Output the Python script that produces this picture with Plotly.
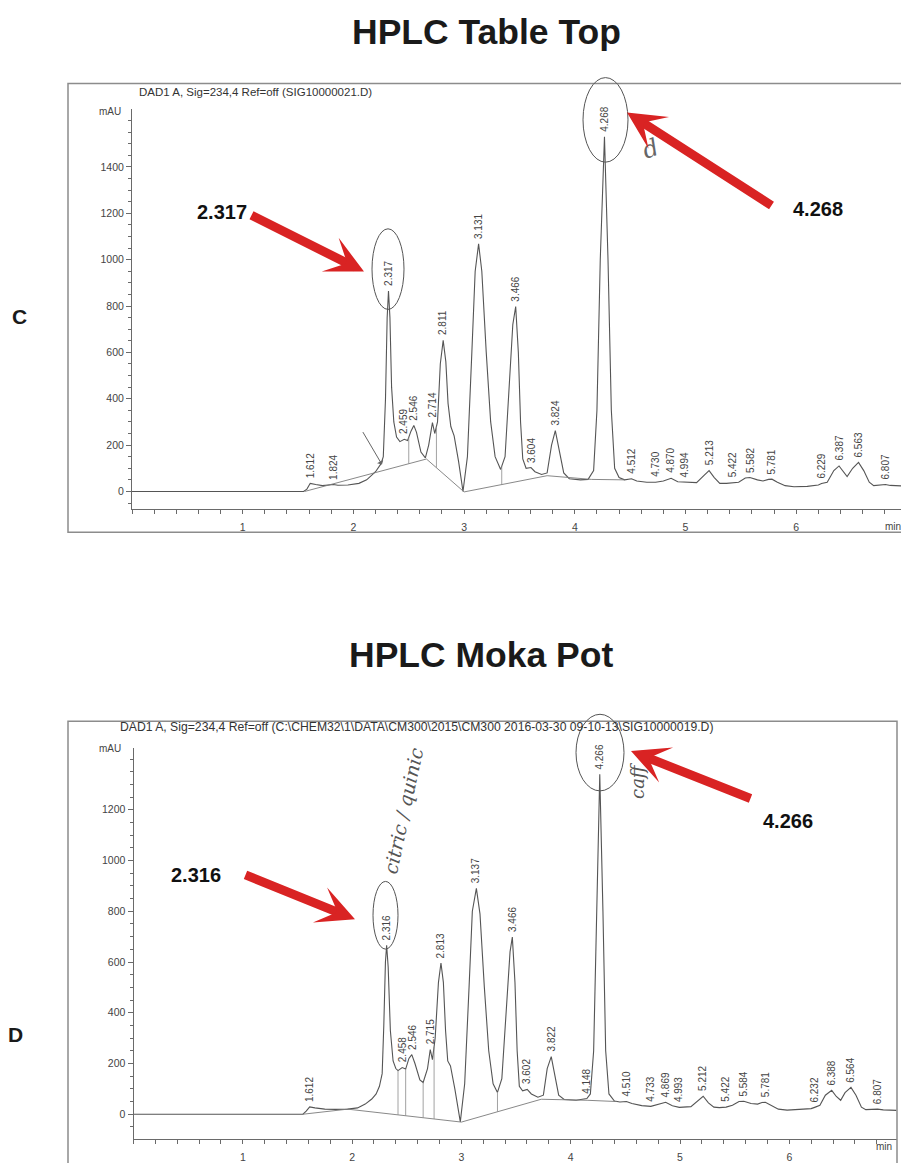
import plotly.graph_objects as go
import numpy as np

W, H = 901, 1163

# ---------------- Data: chromatogram C (Table Top) ----------------
t_C = [0.0, 1.55, 1.58, 1.61, 1.66, 1.72, 1.82, 1.86, 1.95, 2.05, 2.12, 2.20, 2.25, 2.27,
       2.29, 2.305, 2.317, 2.33, 2.345, 2.365, 2.39, 2.42, 2.459, 2.49, 2.52, 2.546, 2.57,
       2.61, 2.65, 2.68, 2.714, 2.735, 2.76, 2.785, 2.811, 2.835, 2.855, 2.88, 2.91, 2.95,
       2.99, 3.03, 3.07, 3.10, 3.131, 3.16, 3.20, 3.24, 3.28, 3.33, 3.37, 3.41, 3.44, 3.466,
       3.49, 3.51, 3.53, 3.56, 3.604, 3.64, 3.70, 3.75, 3.79, 3.824, 3.86, 3.90, 3.95, 4.05,
       4.12, 4.17, 4.20, 4.23, 4.268, 4.30, 4.33, 4.36, 4.40, 4.45, 4.512, 4.56, 4.65, 4.73,
       4.80, 4.87, 4.93, 4.994, 5.10, 5.17, 5.213, 5.26, 5.31, 5.37, 5.422, 5.48, 5.54, 5.582,
       5.65, 5.70, 5.75, 5.781, 5.83, 5.90, 5.98, 6.10, 6.20, 6.229, 6.28, 6.34, 6.387, 6.43,
       6.46, 6.51, 6.563, 6.61, 6.66, 6.70, 6.76, 6.807, 6.85, 6.95]
mAU_C = [0, 0, 10, 35, 30, 25, 30, 27, 28, 35, 50, 85, 120, 150,
         400, 750, 865, 750, 450, 300, 235, 215, 225, 220, 260, 285, 255,
         170, 145, 200, 297, 250, 300, 550, 652, 560, 380, 280, 240, 130,
         0, 150, 600, 950, 1068, 950, 600, 300, 150, 95, 150, 450, 720, 798,
         600, 300, 140, 100, 103, 85, 73, 80, 200, 262, 180, 80, 55, 50,
         52, 90, 350, 1000, 1530, 1000, 350, 100, 60, 50, 55, 45, 40, 40,
         45, 57, 42, 40, 38, 70, 90, 60, 35, 35, 38, 40, 58, 60,
         50, 45, 52, 53, 40, 25, 20, 22, 28, 34, 40, 90, 110, 80,
         64, 100, 125, 90, 40, 25, 28, 30, 26, 24]
base_t_C = [1.56, 2.66, 3.00, 3.75, 4.15, 4.45]
base_mAU_C = [0, 140, -2, 68, 52, 50]
drop_t_C = [2.50, 2.75, 3.34]
peaks_C = ["1.612", "1.824", "2.317", "2.459", "2.546", "2.714", "2.811", "3.131", "3.466",
           "3.604", "3.824", "4.268", "4.512", "4.730", "4.870", "4.994", "5.213", "5.422",
           "5.582", "5.781", "6.229", "6.387", "6.563", "6.807"]
peak_mAU_C = [35, 30, 865, 225, 285, 297, 652, 1068, 798, 103, 262, 1530, 55, 42, 57, 40,
              90, 38, 60, 53, 34, 110, 125, 30]

# ---------------- Data: chromatogram D (Moka Pot) ----------------
t_D = [0.0, 1.55, 1.58, 1.612, 1.66, 1.75, 1.85, 1.96, 2.05, 2.12, 2.18, 2.22, 2.25, 2.275,
       2.29, 2.305, 2.316, 2.33, 2.35, 2.375, 2.40, 2.42, 2.458, 2.49, 2.52, 2.546, 2.575,
       2.62, 2.65, 2.69, 2.715, 2.735, 2.76, 2.79, 2.813, 2.835, 2.855, 2.875, 2.90, 2.94,
       2.99, 3.03, 3.07, 3.10, 3.137, 3.17, 3.21, 3.25, 3.29, 3.33, 3.37, 3.41, 3.445, 3.466,
       3.49, 3.51, 3.53, 3.56, 3.602, 3.64, 3.70, 3.75, 3.785, 3.822, 3.85, 3.89, 3.94, 4.05,
       4.148, 4.18, 4.21, 4.235, 4.266, 4.295, 4.32, 4.35, 4.40, 4.45, 4.510, 4.56, 4.65,
       4.733, 4.80, 4.869, 4.93, 4.993, 5.10, 5.17, 5.212, 5.26, 5.31, 5.36, 5.422, 5.48,
       5.54, 5.584, 5.65, 5.71, 5.75, 5.781, 5.83, 5.90, 5.98, 6.10, 6.20, 6.232, 6.28, 6.33,
       6.388, 6.43, 6.47, 6.51, 6.564, 6.61, 6.66, 6.70, 6.76, 6.807, 6.86, 6.98]
mAU_D = [0, 0, 12, 29, 25, 20, 19, 20, 25, 40, 60, 80, 110, 160,
         350, 600, 666, 580, 330, 210, 180, 172, 184, 178, 220, 235, 200,
         135, 125, 180, 255, 215, 300, 520, 596, 520, 330, 210, 190, 100,
         -30, 120, 500, 800, 890, 790, 500, 250, 120, 86, 140, 420, 640, 698,
         520, 250, 110, 92, 98, 80, 67, 75, 180, 227, 170, 75, 58, 55,
         62, 80, 250, 800, 1340, 800, 250, 80, 52, 48, 50, 42, 34,
         31, 38, 47, 33, 27, 30, 55, 71, 45, 28, 26, 28, 35,
         50, 51, 42, 40, 46, 47, 35, 20, 16, 18, 22, 27, 35, 75,
         94, 70, 55, 85, 106, 75, 28, 18, 20, 20, 17, 15]
base_t_D = [1.55, 1.96, 3.00, 3.73, 4.15, 4.42]
base_mAU_D = [0, 20, -31, 59, 55, 50]
drop_t_D = [2.42, 2.49, 2.65, 2.75, 3.33]
peaks_D = ["1.612", "2.316", "2.458", "2.546", "2.715", "2.813", "3.137", "3.466", "3.602",
           "3.822", "4.148", "4.266", "4.510", "4.733", "4.869", "4.993", "5.212", "5.422",
           "5.584", "5.781", "6.232", "6.388", "6.564", "6.807"]
peak_mAU_D = [29, 666, 184, 235, 255, 596, 890, 698, 98, 227, 62, 1340, 50, 31, 47, 27,
              71, 28, 51, 47, 27, 94, 106, 20]

y_ticks_C = [0, 200, 400, 600, 800, 1000, 1200, 1400]
y_ticks_D = [0, 200, 400, 600, 800, 1000, 1200]
x_ticks = [1, 2, 3, 4, 5, 6]

# ---------------- helpers ----------------
def px(x):
    return x / W


def py(y):
    return 1 - y / H


FONT = "Liberation Sans, Arial, sans-serif"
TRACE = "#555555"
AXC = "#6a6a6a"

fig = go.Figure()


def add_chrom(t, v, bt, bv, drops, xa, ya):
    fig.add_trace(go.Scatter(x=t, y=v, mode="lines", line=dict(color=TRACE, width=1.1),
                             xaxis=xa, yaxis=ya, hoverinfo="skip", showlegend=False))
    fig.add_trace(go.Scatter(x=bt, y=bv, mode="lines", line=dict(color="#7a7a7a", width=0.9),
                             xaxis=xa, yaxis=ya, hoverinfo="skip", showlegend=False))
    dx, dy = [], []
    for d in drops:
        dx += [d, d, None]
        dy += [float(np.interp(d, bt, bv)), float(np.interp(d, t, v)), None]
    fig.add_trace(go.Scatter(x=dx, y=dy, mode="lines", line=dict(color="#8a8a8a", width=0.8),
                             xaxis=xa, yaxis=ya, hoverinfo="skip", showlegend=False))


add_chrom(t_C, mAU_C, base_t_C, base_mAU_C, drop_t_C, "x", "y")
add_chrom(t_D, mAU_D, base_t_D, base_mAU_D, drop_t_D, "x2", "y2")

annotations = []
for lab, val in zip(peaks_C, peak_mAU_C):
    annotations.append(dict(x=float(lab), y=val, xref="x", yref="y", text=lab, showarrow=False,
                            textangle=-90, yanchor="bottom", xanchor="center", yshift=3,
                            font=dict(family=FONT, size=10, color="#444")))
for lab, val in zip(peaks_D, peak_mAU_D):
    annotations.append(dict(x=float(lab), y=val, xref="x2", yref="y2", text=lab, showarrow=False,
                            textangle=-90, yanchor="bottom", xanchor="center", yshift=3,
                            font=dict(family=FONT, size=10, color="#444")))


def txt(x, y, s, size, bold=False, color="#222", xanchor="center", angle=0, italic=False, fam=FONT):
    t = f"<b>{s}</b>" if bold else s
    if italic:
        t = f"<i>{t}</i>"
    annotations.append(dict(x=px(x), y=py(y), xref="paper", yref="paper", text=t, showarrow=False,
                            xanchor=xanchor, yanchor="middle", textangle=angle,
                            font=dict(family=fam, size=size, color=color)))


# Titles and panel letters
txt(486, 32, "HPLC Table Top", 35.5, bold=True, color="#1a1a1a")
txt(481, 658, "HPLC Moka Pot", 35.5, bold=True, color="#1a1a1a")
txt(19, 318, "C", 21, bold=True, color="#1a1a1a")
txt(15, 1040, "D", 21, bold=True, color="#1a1a1a")

# Instrument headers
txt(137, 92, "DAD1 A, Sig=234,4 Ref=off (SIG10000021.D)", 11.5, color="#333", xanchor="left")
txt(118, 731, "DAD1 A, Sig=234,4 Ref=off (C:\\CHEM32\\1\\DATA\\CM300\\2015\\CM300 2016-03-30 09-10-13\\SIG10000019.D)",
    12.2, color="#333", xanchor="left")
txt(110, 112, "mAU", 10, color="#444")
txt(110, 752, "mAU", 10, color="#444")
txt(883, 529, "min", 10, color="#444", xanchor="left")
txt(874, 1152, "min", 10, color="#444", xanchor="left")

# Red callout labels
txt(222, 213, "2.317", 20, bold=True, color="#111")
txt(818, 210, "4.268", 20, bold=True, color="#111")
txt(196, 880, "2.316", 20, bold=True, color="#111")
txt(788, 825, "4.266", 20, bold=True, color="#111")

# handwriting
txt(403, 815, "citric / quinic", 19, color="#555", angle=-78, italic=True,
    fam="DejaVu Serif, serif")
txt(638, 785, "caff", 18, color="#555", angle=-90, italic=True, fam="DejaVu Serif, serif")
txt(650, 150, "d", 24, color="#666", angle=-20, italic=True, fam="DejaVu Serif, serif")


def red_arrow(hx, hy, tx, ty):
    annotations.append(dict(x=px(hx), y=py(hy), xref="paper", yref="paper", text="",
                            showarrow=True, ax=tx - hx, ay=ty - hy, arrowhead=3,
                            arrowsize=0.7, arrowwidth=9, arrowcolor="#d92323", standoff=0))


red_arrow(364, 273, 250, 216)
red_arrow(627, 113, 773, 207)
red_arrow(355, 924, 244, 879)
red_arrow(631, 755, 752, 803)

# little hand-drawn arrow
annotations.append(dict(x=px(382), y=py(467), xref="paper", yref="paper", text="", showarrow=True,
                        ax=-20, ay=-34, arrowhead=1, arrowsize=1.2, arrowwidth=1,
                        arrowcolor="#666"))

shapes = [
    # frames
    dict(type="rect", xref="paper", yref="paper", x0=px(68), x1=px(905), y0=py(535), y1=py(84),
         line=dict(color="#8c8c8c", width=1.5)),
    dict(type="rect", xref="paper", yref="paper", x0=px(68), x1=px(897), y0=-0.05, y1=py(725),
         line=dict(color="#8c8c8c", width=1.5)),
    # hand-drawn circles
    dict(type="circle", xref="paper", yref="paper", x0=px(372), x1=px(404), y0=py(311), y1=py(230),
         line=dict(color="#555", width=1)),
    dict(type="circle", xref="paper", yref="paper", x0=px(583), x1=px(628), y0=py(163), y1=py(78),
         line=dict(color="#555", width=1)),
    dict(type="circle", xref="paper", yref="paper", x0=px(373), x1=px(398), y0=py(954), y1=py(886),
         line=dict(color="#555", width=1)),
    dict(type="circle", xref="paper", yref="paper", x0=px(576), x1=px(624), y0=py(795), y1=py(718),
         line=dict(color="#555", width=1)),
]

# axes
def xaxis(domain, rng, anchor):
    return dict(domain=domain, range=rng, anchor=anchor, showline=True, linecolor=AXC, linewidth=1,
                ticks="outside", ticklen=4, tickcolor=AXC, tickvals=x_ticks,
                ticktext=[str(v) for v in x_ticks], ticklabelstandoff=4,
                tickfont=dict(family=FONT, size=10.5, color="#444"), showgrid=False, zeroline=False,
                minor=dict(ticks="outside", ticklen=4, tickcolor=AXC, dtick=0.2, tick0=0,
                           showgrid=False))


def yaxis(domain, rng, anchor, ticks):
    return dict(domain=domain, range=rng, anchor=anchor, showline=True, linecolor=AXC, linewidth=1,
                ticks="outside", ticklen=5, tickcolor=AXC, tickvals=ticks,
                tickfont=dict(family=FONT, size=10.5, color="#444"), showgrid=False, zeroline=False,
                minor=dict(ticks="outside", ticklen=3, tickcolor=AXC, dtick=50, tick0=0,
                           showgrid=False))


fig.update_layout(
    width=W, height=H, margin=dict(l=0, r=0, t=0, b=0),
    paper_bgcolor="white", plot_bgcolor="white", showlegend=False,
    xaxis=xaxis([px(132), 1.0], [0, (W - 132) / 110.7], "y"),
    yaxis=yaxis([py(512), py(110)], [(494 - 512) * 200 / 46.6, (494 - 110) * 200 / 46.6], "x",
                y_ticks_C),
    xaxis2=xaxis([px(133.5), px(897)], [0, (897 - 133.5) / 109.3], "y2"),
    yaxis2=yaxis([py(1145), py(752)], [(1120 - 1145) * 200 / 51, (1120 - 752) * 200 / 51], "x2",
                 y_ticks_D),
    annotations=annotations, shapes=shapes,
)

fig.write_html("out.html")
